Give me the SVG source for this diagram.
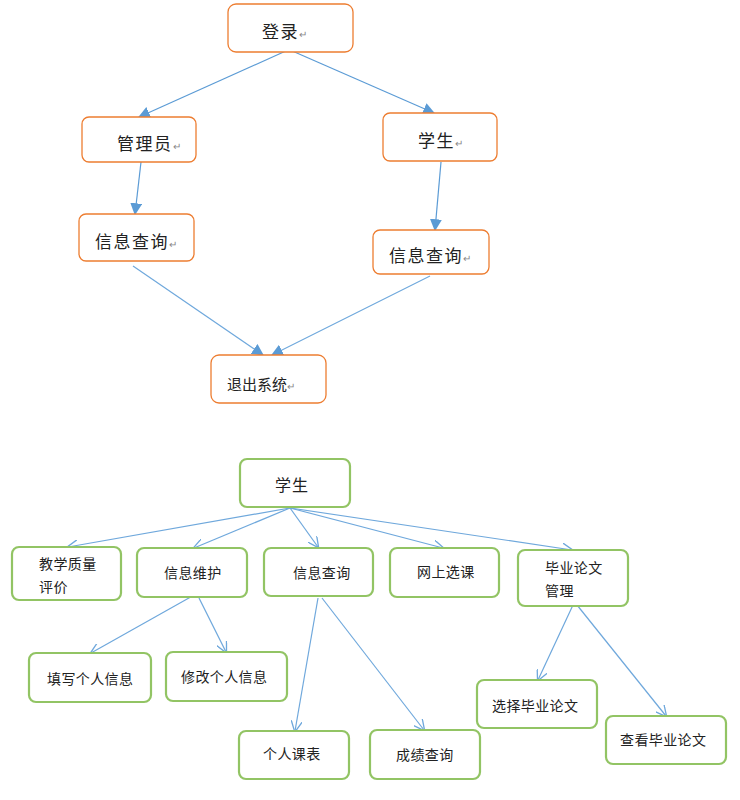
<svg xmlns="http://www.w3.org/2000/svg" width="740" height="800" viewBox="0 0 740 800">
<defs>
<style>
.o{fill:#fff;stroke:#ed7d31;stroke-width:1.3}
.g{fill:#fff;stroke:#92c464;stroke-width:2.2}
.t{font-family:"Liberation Sans","Noto Sans CJK SC",sans-serif;fill:#222}
.tt{font-size:17px;letter-spacing:1.5px}
.bt{font-size:14px;letter-spacing:0.4px}
.pm{font-size:10px;fill:#888;letter-spacing:0}
.c{stroke:#5b9bd5;stroke-width:1.2;fill:none}
.c2{stroke:#6fa8dc;stroke-width:1.2;fill:none}
</style>
<marker id="fa" viewBox="0 0 10 10" refX="9" refY="5" markerWidth="12" markerHeight="12" markerUnits="userSpaceOnUse" orient="auto">
<path d="M0,0 L10,5 L0,10 Z" fill="#5b9bd5"/>
</marker>
<marker id="oa" viewBox="0 0 10 10" refX="9" refY="5" markerWidth="11" markerHeight="11" markerUnits="userSpaceOnUse" orient="auto">
<path d="M0,0 L10,5 L0,10" fill="none" stroke="#6fa8dc" stroke-width="1.2"/>
</marker>
</defs>
<rect width="740" height="800" fill="#fff"/>
<g id="connectors">
<line class="c" x1="288" y1="50" x2="139" y2="117" marker-end="url(#fa)"/>
<line class="c" x1="290" y1="50" x2="434" y2="113" marker-end="url(#fa)"/>
<line class="c" x1="141" y1="162" x2="135" y2="214" marker-end="url(#fa)"/>
<line class="c" x1="441" y1="162" x2="435" y2="230" marker-end="url(#fa)"/>
<line class="c2" x1="133" y1="266" x2="263" y2="355" marker-end="url(#fa)"/>
<line class="c2" x1="430" y1="276" x2="272" y2="355" marker-end="url(#fa)"/>
<line class="c2" x1="290" y1="508" x2="68" y2="547" marker-end="url(#oa)"/>
<line class="c2" x1="290" y1="508" x2="194" y2="548" marker-end="url(#oa)"/>
<line class="c2" x1="290" y1="508" x2="318" y2="547" marker-end="url(#oa)"/>
<line class="c2" x1="290" y1="508" x2="443" y2="548" marker-end="url(#oa)"/>
<line class="c2" x1="290" y1="508" x2="572" y2="550" marker-end="url(#oa)"/>
<line class="c2" x1="196" y1="594" x2="91" y2="653" marker-end="url(#oa)"/>
<line class="c2" x1="199" y1="598" x2="226" y2="652" marker-end="url(#oa)"/>
<line class="c2" x1="318" y1="598" x2="295" y2="731" marker-end="url(#oa)"/>
<line class="c2" x1="322" y1="598" x2="424" y2="730" marker-end="url(#oa)"/>
<line class="c2" x1="573" y1="605" x2="538" y2="680" marker-end="url(#oa)"/>
<line class="c2" x1="577" y1="605" x2="666" y2="716" marker-end="url(#oa)"/>
</g>
<g id="login"><rect class="o" x="228" y="4" width="125" height="48" rx="8"/><text class="t tt" x="262" y="38">登录<tspan class="pm">↵</tspan></text></g>
<g id="admin"><rect class="o" x="82" y="117" width="114" height="45" rx="7"/><text class="t tt" x="117" y="150">管理员<tspan class="pm">↵</tspan></text></g>
<g id="student-top"><rect class="o" x="383" y="113" width="114" height="48" rx="7"/><text class="t tt" x="418" y="147">学生<tspan class="pm">↵</tspan></text></g>
<g id="query-left"><rect class="o" x="79" y="214" width="115" height="47" rx="7"/><text class="t tt" x="95" y="248">信息查询<tspan class="pm">↵</tspan></text></g>
<g id="query-right"><rect class="o" x="373" y="230" width="116" height="44" rx="7"/><text class="t tt" x="389" y="262">信息查询<tspan class="pm">↵</tspan></text></g>
<g id="exit"><rect class="o" x="211" y="355" width="115" height="48" rx="8"/><text class="t" x="227" y="390" style="font-size:15px">退出系统<tspan class="pm">↵</tspan></text></g>
<g id="student"><rect class="g" x="240" y="459" width="110" height="48" rx="7"/><text class="t" x="275" y="491" style="font-size:16px;letter-spacing:1px">学生</text></g>
<g id="eval"><rect class="g" x="12" y="547" width="109" height="53" rx="7"/><text class="t bt" x="39" y="569">教学质量</text><text class="t bt" x="39" y="592">评价</text></g>
<g id="maintain"><rect class="g" x="137" y="548" width="110" height="49" rx="7"/><text class="t bt" x="164" y="578">信息维护</text></g>
<g id="query"><rect class="g" x="264" y="548" width="109" height="48" rx="7"/><text class="t bt" x="293" y="578">信息查询</text></g>
<g id="select"><rect class="g" x="390" y="548" width="109" height="49" rx="7"/><text class="t bt" x="417" y="577">网上选课</text></g>
<g id="thesis"><rect class="g" x="518" y="550" width="110" height="56" rx="7"/><text class="t bt" x="545" y="573">毕业论文</text><text class="t bt" x="545" y="596">管理</text></g>
<g id="fill"><rect class="g" x="29" y="653" width="122" height="49" rx="7"/><text class="t bt" x="47" y="684">填写个人信息</text></g>
<g id="modify"><rect class="g" x="166" y="652" width="121" height="49" rx="7"/><text class="t bt" x="181" y="682">修改个人信息</text></g>
<g id="schedule"><rect class="g" x="239" y="731" width="110" height="48" rx="7"/><text class="t bt" x="263" y="759">个人课表</text></g>
<g id="grades"><rect class="g" x="370" y="730" width="110" height="49" rx="7"/><text class="t bt" x="396" y="760">成绩查询</text></g>
<g id="choose-thesis"><rect class="g" x="477" y="680" width="120" height="48" rx="7"/><text class="t bt" x="492" y="711">选择毕业论文</text></g>
<g id="view-thesis"><rect class="g" x="606" y="716" width="120" height="48" rx="7"/><text class="t bt" x="620" y="745">查看毕业论文</text></g>
</svg>
